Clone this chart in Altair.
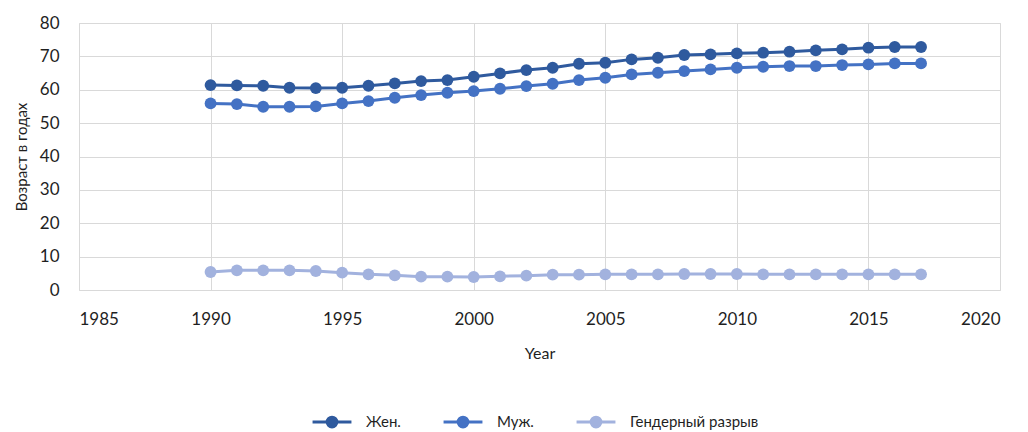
import altair as alt
import pandas as pd

years = list(range(1990, 2018))
women = [61.4, 61.3, 61.2, 60.6, 60.5, 60.6, 61.2, 61.9, 62.6, 62.9, 63.9,
         64.9, 65.9, 66.6, 67.8, 68.1, 69.1, 69.6, 70.4, 70.6, 70.9,
         71.1, 71.4, 71.8, 72.1, 72.6, 72.8, 72.8]
men = [55.9, 55.7, 54.9, 54.9, 55.0, 55.9, 56.6, 57.6, 58.4, 59.1, 59.6,
       60.3, 61.1, 61.8, 62.9, 63.6, 64.6, 65.1, 65.6, 66.1, 66.6,
       66.9, 67.1, 67.1, 67.4, 67.6, 67.9, 67.9]
gap = [5.4, 5.9, 5.9, 5.9, 5.7, 5.2, 4.7, 4.4, 4.0, 4.0, 3.9,
       4.1, 4.3, 4.6, 4.6, 4.7, 4.7, 4.7, 4.8, 4.8, 4.8,
       4.7, 4.7, 4.7, 4.7, 4.7, 4.7, 4.7]
series_names = ["Жен.", "Муж.", "Гендерный разрыв"]
series_colors = ["#2f5a9e", "#4472c4", "#a2b2de"]

rows = []
for name, vals in zip(series_names, [women, men, gap]):
    for yr, v in zip(years, vals):
        rows.append({"Year": yr, "Value": v, "Series": name})
df = pd.DataFrame(rows)

FONT = "Lato"
TXT = "#1f1f1f"

color = alt.Color(
    "Series:N",
    scale=alt.Scale(domain=series_names, range=series_colors),
    sort=series_names,
    legend=alt.Legend(
        title=None, orient="none", direction="horizontal",
        legendX=235, legendY=381,
        symbolType="M-1.2,0L1.2,0M0.3,0A0.3,0.3 0 1,1 -0.3,0A0.3,0.3 0 1,1 0.3,0",
        symbolSize=1050, symbolStrokeWidth=3, labelFontSize=15, labelFont=FONT,
        labelColor=TXT, columnPadding=36, labelOffset=16,
    ),
)

x = alt.X("Year:Q", scale=alt.Scale(domain=[1985, 2020], nice=False, zero=False),
          axis=alt.Axis(values=list(range(1985, 2021, 5)), format="d", title="Year",
                        grid=True, gridColor="#d9d9d9", ticks=False, domain=False,
                        labelFontSize=17, labelFont=FONT, labelColor=TXT,
                        labelPadding=21, titleFontSize=16, titleFont=FONT,
                        titleColor=TXT, titleFontWeight="normal", titlePadding=18))
y = alt.Y("Value:Q", scale=alt.Scale(domain=[0, 80], nice=False),
          axis=alt.Axis(values=list(range(0, 81, 10)), title="Возраст в годах",
                        grid=True, gridColor="#d9d9d9", ticks=False, domain=False,
                        labelFontSize=17, labelFont=FONT, labelColor=TXT,
                        labelPadding=20, titleFontSize=15, titleFont=FONT,
                        titleColor=TXT, titleFontWeight="normal", titlePadding=10))

line = alt.Chart(df).mark_line(strokeWidth=3).encode(x=x, y=y, color=color)
pts = alt.Chart(df).mark_circle(size=140, opacity=1).encode(x=x, y=y, color=color)

chart = (line + pts).properties(width=921, height=267, padding={"left": 6, "top": 6, "right": 20, "bottom": 5}).configure_view(
    stroke=None).configure(background="white")

chart.save("out.html", embed_options={"renderer": "svg", "actions": False})
